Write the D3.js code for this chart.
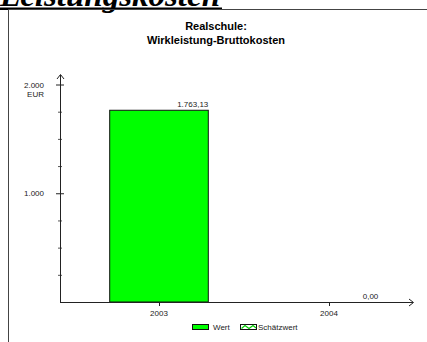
<!DOCTYPE html>
<html>
<head>
<meta charset="utf-8">
<script src="https://cdn.jsdelivr.net/npm/d3@7"></script>
<style>
  body { margin: 0; background: #fff; }
  svg { display: block; font-family: "Liberation Sans", Arial, sans-serif; }
</style>
</head>
<body>
<div class="chart"></div>
<script>
const pageTitle = 'Leistungskosten';
const chartTitle = ['Realschule:', 'Wirkleistung-Bruttokosten'];
const years = ['2003', '2004'];
const values = [1763.13, 0];
const valueLabels = ['1.763,13', '0,00'];
const yTicks = [1000, 2000];
const yTickLabels = ['1.000', '2.000'];
const yUnit = 'EUR';
const legendItems = ['Wert', 'Schätzwert'];

const width = 427, height = 342;

let svg = d3.select('.chart')
  .append('svg')
  .attr('width', width)
  .attr('height', height);

// page heading, cut off at the top
svg.append('text')
  .attr('x', 0)
  .attr('y', 6)
  .attr('textLength', 220)
  .attr('lengthAdjust', 'spacingAndGlyphs')
  .style('font-family', '"Liberation Serif", "Times New Roman", serif')
  .style('font-weight', 'bold')
  .style('font-style', 'italic')
  .style('font-size', '32px')
  .text(pageTitle);
svg.append('rect')
  .attr('x', 0).attr('y', 7.5)
  .attr('width', 222).attr('height', 2.5)
  .attr('fill', '#000');

// frame
svg.append('path')
  .attr('d', 'M8.5,342 V9.5 H427')
  .attr('fill', 'none')
  .attr('stroke', '#444')
  .attr('stroke-width', 1);

// chart title
svg.selectAll('.title')
  .data(chartTitle)
  .enter()
  .append('text')
  .attr('class', 'title')
  .attr('x', 216)
  .attr('y', (d, i) => 30 + i * 14)
  .attr('text-anchor', 'middle')
  .style('font-weight', 'bold')
  .style('font-size', '11px')
  .text(d => d);

let yScale = d3.scaleLinear()
  .domain([0, 2000])
  .range([302, 84.5]);

let xScale = d3.scaleBand()
  .domain(years)
  .range([74, 414]);

const x0 = 60, xEnd = 413;
const axisColor = '#222';

// minor y ticks every 250
const minor = d3.range(250, 2000, 250).filter(v => v % 1000 !== 0);
svg.selectAll('.minor')
  .data(minor)
  .enter()
  .append('line')
  .attr('x1', x0 - 2).attr('x2', x0 + 2)
  .attr('y1', d => yScale(d) + 0.5).attr('y2', d => yScale(d) + 0.5)
  .attr('stroke', '#555');

svg.selectAll('.major')
  .data(yTicks)
  .enter()
  .append('line')
  .attr('x1', x0 - 4).attr('x2', x0 + 4)
  .attr('y1', d => yScale(d) + 0.5).attr('y2', d => yScale(d) + 0.5)
  .attr('stroke', axisColor);

svg.selectAll('.ylab')
  .data(yTicks)
  .enter()
  .append('text')
  .attr('x', 44)
  .attr('y', d => yScale(d) + 3)
  .attr('text-anchor', 'end')
  .style('font-size', '8px')
  .attr('fill', '#222')
  .text((d, i) => yTickLabels[i]);

svg.append('text')
  .attr('x', 44)
  .attr('y', yScale(2000) + 12)
  .attr('text-anchor', 'end')
  .style('font-size', '8px')
  .attr('fill', '#222')
  .text(yUnit);

// bars
const barW = xScale.bandwidth() * 0.58;
svg.selectAll('.bar')
  .data(values)
  .enter()
  .append('rect')
  .attr('class', 'bar')
  .attr('x', (d, i) => xScale(years[i]) + (xScale.bandwidth() - barW) / 2)
  .attr('y', d => yScale(d))
  .attr('width', barW)
  .attr('height', d => yScale(0) - yScale(d))
  .attr('fill', '#00ff00')
  .attr('stroke', d => d > 0 ? '#111' : 'none')
  .attr('stroke-width', 1);

svg.selectAll('.vlab')
  .data(values)
  .enter()
  .append('text')
  .attr('x', (d, i) => xScale(years[i]) + (xScale.bandwidth() + barW) / 2)
  .attr('y', d => yScale(d) - 3)
  .attr('text-anchor', 'end')
  .style('font-size', '8px')
  .attr('fill', '#222')
  .text((d, i) => valueLabels[i]);

// y axis with arrow
svg.append('line')
  .attr('x1', x0 + 0.5).attr('x2', x0 + 0.5)
  .attr('y1', yScale(0)).attr('y2', 75)
  .attr('stroke', axisColor);
svg.append('path')
  .attr('d', `M${x0 - 3},79 L${x0 + 0.5},74.5 L${x0 + 4},79`)
  .attr('fill', 'none')
  .attr('stroke', axisColor);

// x axis with arrow
svg.append('line')
  .attr('x1', x0).attr('x2', xEnd)
  .attr('y1', yScale(0) + 0.5).attr('y2', yScale(0) + 0.5)
  .attr('stroke', axisColor);
svg.append('path')
  .attr('d', `M${xEnd - 4},${yScale(0) - 3} L${xEnd + 0.5},${yScale(0) + 0.5} L${xEnd - 4},${yScale(0) + 4}`)
  .attr('fill', 'none')
  .attr('stroke', axisColor);

svg.selectAll('.xtick')
  .data(years)
  .enter()
  .append('line')
  .attr('x1', d => xScale(d) + xScale.bandwidth() / 2 + 0.5)
  .attr('x2', d => xScale(d) + xScale.bandwidth() / 2 + 0.5)
  .attr('y1', yScale(0)).attr('y2', yScale(0) + 4)
  .attr('stroke', axisColor);

svg.selectAll('.xlab')
  .data(years)
  .enter()
  .append('text')
  .attr('x', d => xScale(d) + xScale.bandwidth() / 2)
  .attr('y', yScale(0) + 14)
  .attr('text-anchor', 'middle')
  .style('font-size', '8px')
  .attr('fill', '#222')
  .text(d => d);

// legend
const lg = svg.append('g').attr('transform', 'translate(192,324)');
lg.append('rect')
  .attr('x', 0.5).attr('y', 0.5)
  .attr('width', 16).attr('height', 5)
  .attr('fill', '#00ff00')
  .attr('stroke', '#111');
lg.append('text')
  .attr('x', 21).attr('y', 6)
  .style('font-size', '8px')
  .attr('fill', '#222')
  .text(legendItems[0]);
lg.append('rect')
  .attr('x', 48.5).attr('y', 0.5)
  .attr('width', 16).attr('height', 5)
  .attr('fill', '#fff')
  .attr('stroke', '#111');
lg.append('path')
  .attr('d', 'M49.5,4.5 L53,1.5 L57,4.5 L61,1.5 L64,4')
  .attr('fill', 'none')
  .attr('stroke', '#00cc00')
  .attr('stroke-width', 1.2);
lg.append('text')
  .attr('x', 66).attr('y', 6)
  .style('font-size', '8px')
  .attr('fill', '#222')
  .text(legendItems[1]);
</script>
</body>
</html>
